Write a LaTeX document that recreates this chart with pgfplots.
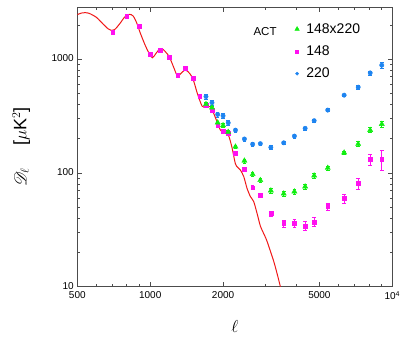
\documentclass[border=0pt]{standalone}
\usepackage{fontspec}
\setmainfont{Liberation Sans}
\usepackage{mathrsfs}
\usepackage{pgfplots}
\usepackage{pgfplotstable}
\pgfplotsset{compat=1.18}
\definecolor{actgreen}{HTML}{10EE10}
\definecolor{actpink}{HTML}{FF10F0}
\definecolor{actblue}{HTML}{1E84F0}
\definecolor{thred}{HTML}{F01818}

% ACT 148 GHz
\pgfplotstableread{
l D e
700 1715 50
800 2383 60
900 1960 50
1000 1113 30
1100 1206 30
1200 1041 25
1300 728 18
1400 834 20
1500 677 17
1600 474 12
1700 395 10
1800 355 9
1900 265 8
2000 234 7
2100 222 7
2250 149 5
2450 108 4
2650 74.3 3
2850 63.7 2.5
3150 44.0 2
3560 35.9 2.5
3941 36.2 2.8
4365 34.3 3
4755 37.2 3.3
5412 50.6 3.5
6325 59.7 5.4
7228 81.4 9
8101 132 15
9046 133 27
}\pink

% ACT 220 GHz
\pgfplotstableread{
l D e
1700 470 25
1800 415 22
1900 327 18
2000 318 16
2100 276 13
2250 238 10
2450 199 8
2650 179 7
2850 181 7
3150 168 6
3560 184 6
3941 211 7
4365 247 8
4755 288 9
5412 357 11
6325 483 14
7228 568 18
8101 758 30
9046 886 50
}\blue

% ACT 148x220
\pgfplotstableread{
l D e
1700 402 15
1800 375 14
1900 277 10
2000 262 9
2100 229 8
2250 170 6
2450 128 5
2650 97.4 4
2850 86.3 3.5
3150 70 3
3560 65.8 3
3941 68.6 3
4365 75.9 3.5
4755 94.7 4
5412 110.6 5
6325 150.7 6
7228 179.6 9
8101 238 12
9046 269 17
}\cross

\begin{document}
\begin{tikzpicture}
\begin{axis}[
  scale only axis, width=315pt, height=279.4pt,
  xmode=log, ymode=log,
  xmin=500, xmax=10000, ymin=10, ymax=2860,
  xtick={500,1000,2000,5000,10000},
  xticklabels={500,1000,2000,5000,10\textsuperscript{4}},
  minor xtick={600,700,800,900,3000,4000,6000,7000,8000,9000},
  ytick={10,100,1000}, yticklabels={10,100,1000},
  minor ytick={20,30,40,50,60,70,80,90,200,300,400,500,600,700,800,900,2000},
  tick align=inside, major tick length=4.5pt, minor tick length=2.8pt,
  axis line style={line width=0.9pt, black!70},
  every tick/.style={black!70, line width=0.7pt},
  tick label style={font=\fontsize{10}{12}\selectfont},
  x tick label style={yshift=-1.2pt},
  y tick label style={yshift=0.8pt},
  xlabel={$\ell$}, ylabel={$\mathscr{D}_{\ell}$\hspace{22pt}[$\mu$K$^2$]},
  every axis x label/.style={at={(axis description cs:0.5,-0.144)}, anchor=center, font=\fontsize{17}{19}\selectfont},
  every axis y label/.style={at={(axis description cs:-0.178,0.5)}, rotate=90, anchor=center, font=\fontsize{18}{20}\selectfont},
  legend style={draw=none, fill=none, at={(rel axis cs:0.69,0.95)}, anchor=north west,
    font=\fontsize{14}{16}\selectfont, row sep=7pt, column sep=5pt, inner sep=0pt},
  legend cell align=left,
  error bars/y dir=both, error bars/y explicit,
  error bars/error bar style={line width=0.7pt},
]
\coordinate (SW) at (rel axis cs:0,0);
\coordinate (NE) at (rel axis cs:1,1);
\addlegendimage{only marks, mark=triangle*, mark size=2.6pt, actgreen}
\addlegendentry{148x220}
\addlegendimage{only marks, mark=square*, mark size=1.5pt, actpink}
\addlegendentry{148}
\addlegendimage{only marks, mark=*, mark size=1.6pt, actblue}
\addlegendentry{220}
\addplot[thred, line width=1pt, smooth, tension=0.45, forget plot, no marks] coordinates {
(500,2466) (520,2545) (537,2565) (560,2530) (600,2330) (640,2030) (670,1850) (690,1795)
(715,1830) (750,2060) (785,2350) (820,2480) (850,2400) (880,2080) (910,1700) (950,1350)
(985,1150) (1021,1030) (1055,1120) (1098,1240) (1130,1220) (1165,1140) (1200,1048)
(1250,850) (1295,714) (1340,750) (1388,801) (1430,780) (1497,685) (1566,500) (1638,387)
(1690,381) (1773,382) (1829,334) (1900,273) (1950,238) (2000,228) (2045,226) (2110,212)
(2179,166) (2249,120) (2300,112) (2358,106) (2434,93) (2513,73) (2594,62) (2676,56)
(2764,44) (2853,34) (2950,29) (3040,25) (3238,16.7) (3350,12.8) (3450,10)
};
\addplot[only marks, mark=square*, mark size=1.9pt, actpink, forget plot,
  error bars/error mark options={rotate=90, mark size=1.8pt, actpink}]
  table[x=l, y=D, y error=e] {\pink};
\addplot[only marks, mark=*, mark size=2.2pt, actblue, forget plot,
  error bars/error mark options={rotate=90, mark size=1.8pt, actblue}]
  table[x=l, y=D, y error=e] {\blue};
\addplot[only marks, mark=triangle*, mark size=3pt, actgreen, forget plot,
  error bars/error mark options={rotate=90, mark size=1.8pt, actgreen}]
  table[x=l, y=D, y error=e] {\cross};
\node[font=\fontsize{11.5}{13}\selectfont] at (rel axis cs:0.596,0.913) {ACT};
\end{axis}
\pgfresetboundingbox
\path ([shift={(-77.3pt,-51.3pt)}]SW) rectangle ([shift={(16.7pt,7.3pt)}]NE);
\end{tikzpicture}
\end{document}
